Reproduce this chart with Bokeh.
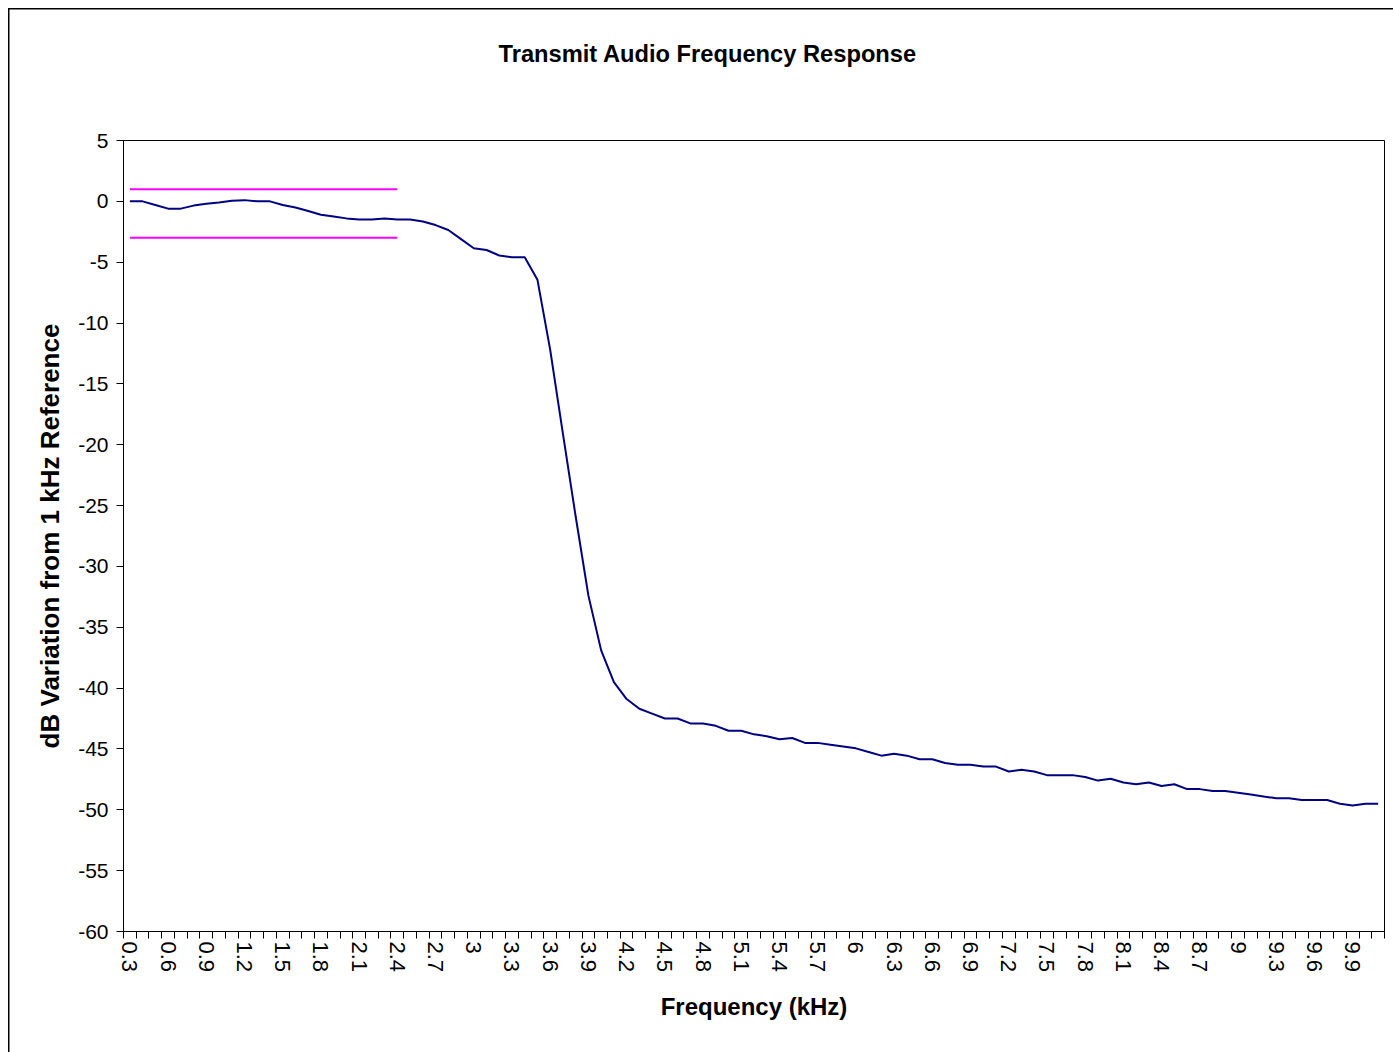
from bokeh.plotting import figure
from bokeh.models import Range1d, FixedTicker, Title
from bokeh.embed import file_html
from bokeh.resources import INLINE

# Test frequencies (kHz), one category per 0.1 kHz step
freq_khz = [
    0.3, 0.4, 0.5, 0.6, 0.7, 0.8, 0.9, 1.0, 1.1, 1.2,
    1.3, 1.4, 1.5, 1.6, 1.7, 1.8, 1.9, 2.0, 2.1, 2.2,
    2.3, 2.4, 2.5, 2.6, 2.7, 2.8, 2.9, 3.0, 3.1, 3.2,
    3.3, 3.4, 3.5, 3.6, 3.7, 3.8, 3.9, 4.0, 4.1, 4.2,
    4.3, 4.4, 4.5, 4.6, 4.7, 4.8, 4.9, 5.0, 5.1, 5.2,
    5.3, 5.4, 5.5, 5.6, 5.7, 5.8, 5.9, 6.0, 6.1, 6.2,
    6.3, 6.4, 6.5, 6.6, 6.7, 6.8, 6.9, 7.0, 7.1, 7.2,
    7.3, 7.4, 7.5, 7.6, 7.7, 7.8, 7.9, 8.0, 8.1, 8.2,
    8.3, 8.4, 8.5, 8.6, 8.7, 8.8, 8.9, 9.0, 9.1, 9.2,
    9.3, 9.4, 9.5, 9.6, 9.7, 9.8, 9.9, 10.0, 10.1,
]

# Measured level relative to the 1 kHz reference (dB)
response_db = [
    0.0, 0.0, -0.3, -0.6, -0.6, -0.35, -0.2, -0.1, 0.05, 0.1,
    0.0, 0.0, -0.3, -0.5, -0.8, -1.1, -1.25, -1.4, -1.5, -1.5,
    -1.4, -1.5, -1.5, -1.65, -1.95, -2.35, -3.1, -3.85, -4.0, -4.45,
    -4.6, -4.6, -6.45, -12.2, -19.1, -25.9, -32.4, -36.9, -39.5, -40.9,
    -41.7, -42.1, -42.5, -42.5, -42.9, -42.9, -43.1, -43.5, -43.5, -43.8,
    -43.95, -44.2, -44.1, -44.5, -44.5, -44.65, -44.8, -44.95, -45.25, -45.55,
    -45.4, -45.55, -45.85, -45.85, -46.15, -46.3, -46.3, -46.45, -46.45, -46.85,
    -46.7, -46.85, -47.15, -47.15, -47.15, -47.3, -47.6, -47.45, -47.75, -47.9,
    -47.75, -48.05, -47.9, -48.3, -48.3, -48.45, -48.45, -48.6, -48.75, -48.9,
    -49.05, -49.05, -49.2, -49.2, -49.2, -49.5, -49.65, -49.5, -49.5,
]

# Pass-band tolerance window
limit_upper_db = 1
limit_lower_db = -3
limit_start_khz = 0.3
limit_end_khz = 2.4

y_ticks = [5, 0, -5, -10, -15, -20, -25, -30, -35, -40, -45, -50, -55, -60]
label_every = 3

FONT = "Liberation Sans"

n = len(freq_khz)
idx = list(range(n))
cat_labels = [f"{f:g}" for f in freq_khz]
label_pos = idx[::label_every]

p = figure(
    width=1393, height=1052,
    output_backend="svg", toolbar_location=None,
    x_range=Range1d(-0.5, n - 0.5), y_range=Range1d(-60, 5),
    min_border_left=123, min_border_right=9,
    min_border_top=140, min_border_bottom=121,
    background_fill_color="white", border_fill_color=None,
    outline_line_color="black", outline_line_width=1,
)
p.title = None
p.grid.visible = False

# Chart-area frame drawn behind the (transparent) canvas border
p.styles = {
    "background-color": "white",
    "background-image": "linear-gradient(#000, #000), linear-gradient(#000, #000)",
    "background-size": "1.5px 100%, 100% 1.5px",
    "background-position": "8px 8px, 8px 8px",
    "background-repeat": "no-repeat",
}

# Category axis: boundary tick marks, a label on every third category
xa = p.xaxis[0]
xa.ticker = FixedTicker(ticks=label_pos, minor_ticks=[i - 0.5 for i in range(n + 1)])
xa.major_label_overrides = {i: cat_labels[i] for i in label_pos}
xa.major_label_orientation = "vertical"
xa.major_tick_line_color = None
xa.major_tick_out = 7
xa.major_tick_in = 0
xa.minor_tick_out = 7
xa.minor_tick_in = 0
xa.minor_tick_line_color = "black"
xa.major_label_standoff = 3
xa.major_label_text_font = FONT
xa.major_label_text_font_size = "22px"
xa.major_label_text_color = "black"
xa.axis_line_color = "black"
xa.axis_label = "Frequency (kHz)"
xa.axis_label_text_font = FONT
xa.axis_label_text_font_style = "bold"
xa.axis_label_text_font_size = "24px"
xa.axis_label_text_color = "black"
xa.axis_label_standoff = 18

ya = p.yaxis[0]
ya.ticker = FixedTicker(ticks=y_ticks, minor_ticks=[])
ya.major_label_overrides = {t: str(t) for t in y_ticks}
ya.major_tick_out = 7
ya.major_tick_in = 0
ya.major_tick_line_color = "black"
ya.minor_tick_line_color = None
ya.major_label_standoff = 8
ya.major_label_text_font = FONT
ya.major_label_text_font_size = "21px"
ya.major_label_text_color = "black"
ya.axis_line_color = "black"
ya.axis_label = "dB Variation from 1 kHz Reference"
ya.axis_label_text_font = FONT
ya.axis_label_text_font_style = "bold"
ya.axis_label_text_font_size = "26px"
ya.axis_label_text_color = "black"
ya.axis_label_standoff = 10

# Tolerance limits
i0 = freq_khz.index(limit_start_khz)
i1 = freq_khz.index(limit_end_khz)
p.line([i0, i1], [limit_upper_db, limit_upper_db], line_color="#FF00FF", line_width=2)
p.line([i0, i1], [limit_lower_db, limit_lower_db], line_color="#FF00FF", line_width=2)

# Response curve
p.line(idx, response_db, line_color="#000080", line_width=2)

# Chart title (blank trailing lines keep it high above the plot area)
p.add_layout(Title(
    text="Transmit Audio Frequency Response\n \n ",
    align="left", offset=375, vertical_align="top", standoff=40,
    text_font=FONT, text_font_style="bold", text_font_size="23.7px",
    text_color="black",
), "above")

open("out.html", "w").write(file_html(p, INLINE))
